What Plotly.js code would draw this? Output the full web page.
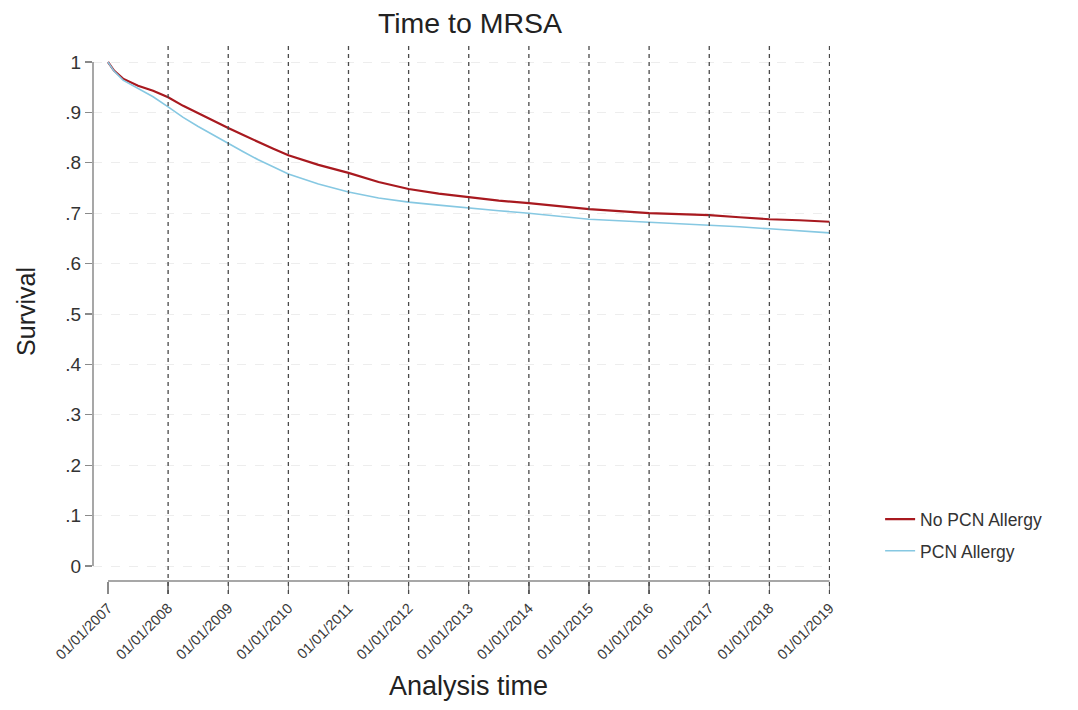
<!DOCTYPE html>
<html>
<head>
<meta charset="utf-8">
<script src="https://cdn.plot.ly/plotly-3.0.1.min.js"></script>
<style>html,body{margin:0;padding:0;background:#fff;}#chart{width:1078px;height:710px;}</style>
</head>
<body>
<div id="chart"></div>
<script>
// Analysis time in fractional years
var timePoints = [2007, 2007.1, 2007.25, 2007.5, 2007.75, 2008, 2008.25, 2008.5, 2008.75, 2009, 2009.25, 2009.5, 2009.75, 2010, 2010.5, 2011, 2011.5, 2012, 2012.5, 2013, 2013.5, 2014, 2014.5, 2015, 2015.5, 2016, 2016.5, 2017, 2017.5, 2018, 2018.5, 2019];
var noAllergy = [1.0, 0.983, 0.967, 0.953, 0.943, 0.930, 0.913, 0.898, 0.884, 0.869, 0.855, 0.841, 0.828, 0.815, 0.796, 0.780, 0.762, 0.748, 0.739, 0.732, 0.725, 0.720, 0.714, 0.708, 0.704, 0.700, 0.698, 0.696, 0.692, 0.688, 0.686, 0.683];
var pcnAllergy = [1.0, 0.982, 0.964, 0.947, 0.931, 0.911, 0.890, 0.872, 0.855, 0.839, 0.822, 0.806, 0.792, 0.778, 0.758, 0.742, 0.730, 0.722, 0.716, 0.710, 0.705, 0.700, 0.694, 0.688, 0.685, 0.682, 0.680, 0.677, 0.673, 0.669, 0.665, 0.661];
var seriesNames = ["No PCN Allergy", "PCN Allergy"];
var yearTicks = [2007, 2008, 2009, 2010, 2011, 2012, 2013, 2014, 2015, 2016, 2017, 2018, 2019];
var yearLabels = ["01/01/2007", "01/01/2008", "01/01/2009", "01/01/2010", "01/01/2011", "01/01/2012", "01/01/2013", "01/01/2014", "01/01/2015", "01/01/2016", "01/01/2017", "01/01/2018", "01/01/2019"];
var yTicks = [0, 0.1, 0.2, 0.3, 0.4, 0.5, 0.6, 0.7, 0.8, 0.9, 1];
var yLabels = ["0", ".1", ".2", ".3", ".4", ".5", ".6", ".7", ".8", ".9", "1"];

var traces = [
  {x: timePoints, y: noAllergy, name: seriesNames[0], legendgroup: "a", mode: "lines", line: {color: "#a8191f", width: 2.2}},
  {x: timePoints, y: pcnAllergy, name: seriesNames[1], legendgroup: "b", mode: "lines", line: {color: "#86c8e2", width: 1.6}}
];

var shapes = [];
// vertical dashed reference lines
yearTicks.slice(1).forEach(function (yr) {
  shapes.push({type: "line", xref: "x", yref: "paper", x0: yr, x1: yr, y0: -0.024, y1: 1,
    line: {color: "#4a4a4a", width: 1.3, dash: "4px,4px"}, layer: "above"});
});
// detached axis lines
shapes.push({type: "line", xref: "paper", yref: "y", x0: 0, x1: 0, y0: 0, y1: 1, line: {color: "#8a8a8a", width: 1.5}});
shapes.push({type: "line", xref: "x", yref: "paper", x0: yearTicks[0], x1: yearTicks[yearTicks.length - 1], y0: 0, y1: 0, line: {color: "#8a8a8a", width: 1.5}});

var pxPerYear = 722 / 12;
var pxPerUnit = 504;
var layout = {
  width: 1078, height: 710,
  margin: {l: 93, r: 248, t: 42, b: 129},
  paper_bgcolor: "#ffffff", plot_bgcolor: "#ffffff",
  font: {family: "Liberation Sans, Arial, sans-serif", color: "#333333"},
  title: {text: "Time to MRSA", font: {size: 28.5, color: "#222222"}, x: 0.436, xanchor: "center", y: 0.968, yanchor: "middle"},
  xaxis: {
    range: [2007 - 15 / pxPerYear, 2019 + 0.5 / pxPerYear],
    tickmode: "array", tickvals: yearTicks, ticktext: yearLabels,
    tickangle: -45, ticks: "outside", ticklen: 12, tickcolor: "#8a8a8a", tickwidth: 1.3,
    tickfont: {size: 14.5, color: "#3a3a3a"},
    showline: false, showgrid: false, zeroline: false
  },
  yaxis: {
    range: [0 - 15 / pxPerUnit, 1 + 20 / pxPerUnit],
    tickmode: "array", tickvals: yTicks, ticktext: yLabels,
    ticks: "outside", ticklen: 7, tickcolor: "#8a8a8a", tickwidth: 1.3,
    tickfont: {size: 19, color: "#333333"},
    showline: false, showgrid: true, gridcolor: "#ededed", griddash: "dash", gridwidth: 1, zeroline: false,
    title: {text: "Survival", font: {size: 25, color: "#222222"}, standoff: 22}
  },
  annotations: [
    {text: "Analysis time", xref: "paper", yref: "paper", x: 0.510, y: -0.195, xanchor: "center", yanchor: "middle", showarrow: false, font: {size: 27, color: "#222222"}}
  ],
  legend: {x: 1.068, y: 0.085, xanchor: "left", yanchor: "middle", font: {size: 17.5, color: "#333333"}, bgcolor: "rgba(0,0,0,0)", traceorder: "grouped", tracegroupgap: 6},
  shapes: shapes,
  showlegend: true
};

Plotly.newPlot("chart", traces, layout, {displayModeBar: false, staticPlot: true});
</script>
</body>
</html>
